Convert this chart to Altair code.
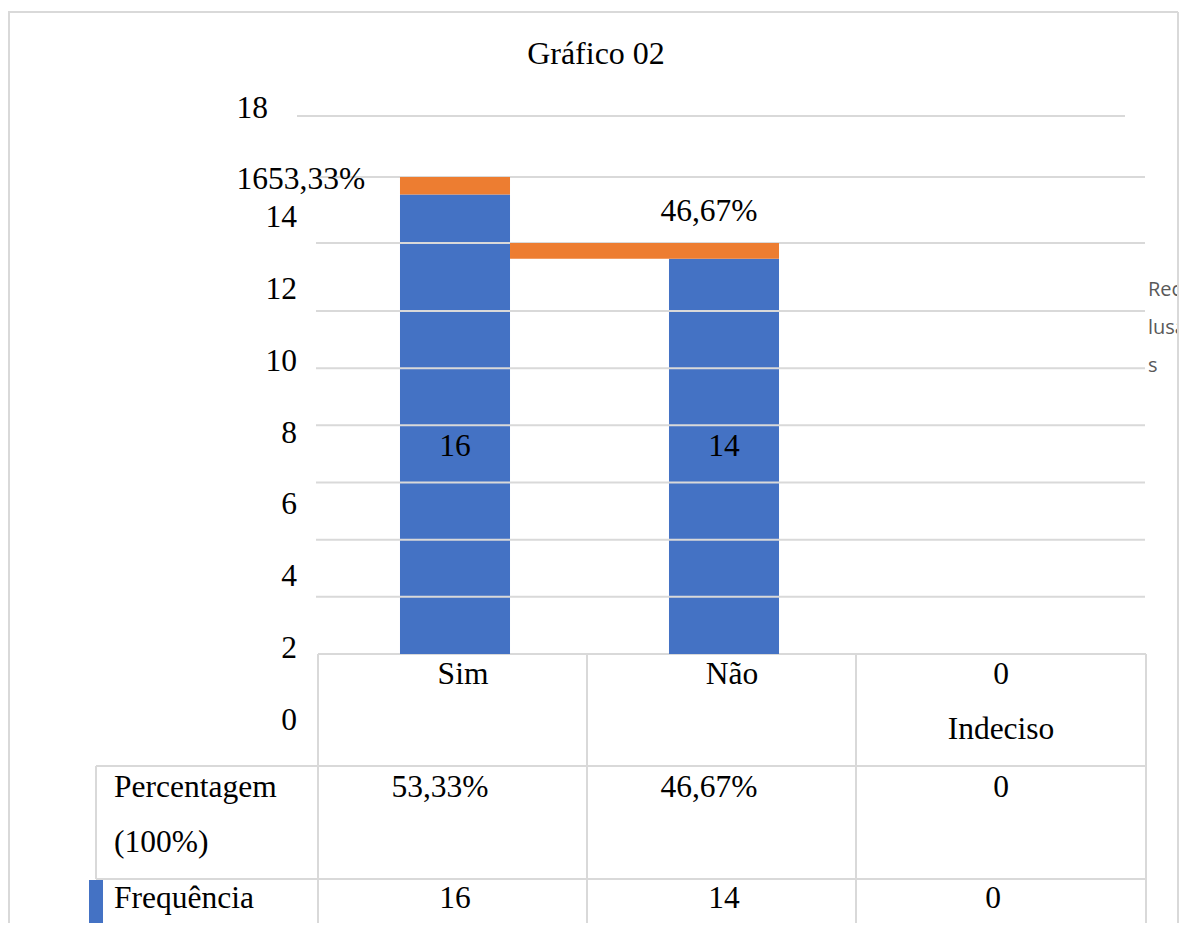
import altair as alt
import pandas as pd

# ---------------- data ----------------
categories = ["Sim", "Não", "Indeciso"]
frequencia = [16, 14, 0]
percentagem = [53.33, 46.67, 0]
percent_text = ["53,33%", "46,67%", "0"]
row_labels = ["Percentagem", "(100%)", "Frequência"]
tick_values = [0, 2, 4, 6, 8, 10, 12, 14, 16, 18]
grid_values = [2, 4, 6, 8, 10, 12, 14, 16]
top_grid = [18]
legend_lines = ["Rec", "lusa", "s"]
title_text = "Gráfico 02"

df = pd.DataFrame({"cat": categories, "freq": frequencia,
                   "pct": percentagem, "pct_text": percent_text})
df["freq_text"] = df["freq"].astype(str)

BLUE = "#4472C4"
ORANGE = "#ED7D31"
LINE = "#D9D9D9"
SERIF = "Liberation Serif"
FS = 31.5
W, H = 1171, 915

xs = alt.Scale(domain=categories, range=[312.5, 1119.5],
               paddingInner=0.591, paddingOuter=0.2955)
ys = alt.Scale(domain=[0, 12, 14, 16, 18], range=[646, 303, 235, 169, 108],
               zero=False, nice=False)
ylab = alt.Scale(domain=[0, 14, 16, 18], range=[722, 219, 181, 110],
                 zero=False, nice=False)

base = alt.Chart(df)
lagged = base.transform_window(
    window=[alt.WindowFieldDef(op="lag", field="cat", **{"as": "prev"})])
one = alt.Data(values=[{}])


def seg(x1, y1, x2, y2, color=LINE, w=2):
    return alt.Chart(one).mark_rule(color=color, strokeWidth=w).encode(
        x=alt.value(x1), x2=alt.value(x2), y=alt.value(y1), y2=alt.value(y2))


def label(text, x, y, align="left", font=SERIF, size=FS, color="black"):
    return alt.Chart(one).mark_text(text=text, font=font, fontSize=size, color=color,
                                    align=align, baseline="alphabetic").encode(
        x=alt.value(x), y=alt.value(y))


layers = []
# table lines
layers += [seg(310, 646, 1138, 646), seg(88, 758, 1138, 758), seg(88, 871, 1138, 871),
           seg(310, 646, 310, H), seg(579, 646, 579, H), seg(848, 646, 848, H),
           seg(1138, 646, 1138, H), seg(88, 758, 88, 871)]

# blue bars
blue = base.transform_filter("datum.freq > 0").transform_calculate(
    top="datum.freq - datum.pct/100", bottom="0").mark_bar(color=BLUE).encode(
    x=alt.X("cat:N", scale=xs, axis=None),
    y=alt.Y("top:Q", scale=ys, axis=None),
    y2="bottom:Q")
layers.append(blue)

# gridlines
grid = alt.Chart(pd.DataFrame({"g": grid_values})).mark_rule(color=LINE, strokeWidth=2).encode(
    y=alt.Y("g:Q", scale=ys, axis=None), x=alt.value(308), x2=alt.value(1137))
grid_top = alt.Chart(pd.DataFrame({"g": top_grid})).mark_rule(color=LINE, strokeWidth=2).encode(
    y=alt.Y("g:Q", scale=ys, axis=None), x=alt.value(289), x2=alt.value(1117))
layers += [grid, grid_top]

# orange segments
orange_first = lagged.transform_filter("datum.pct > 0 && !isValid(datum.prev)").transform_calculate(
    top="datum.freq - datum.pct/100").mark_bar(color=ORANGE).encode(
    x=alt.X("cat:N", scale=xs, axis=None),
    y=alt.Y("freq:Q", scale=ys, axis=None),
    y2="top:Q")
orange_rest = lagged.transform_filter("datum.pct > 0 && isValid(datum.prev)").transform_calculate(
    top="datum.freq - datum.pct/100").mark_rect(color=ORANGE).encode(
    x=alt.X("prev:N", scale=xs, axis=None, bandPosition=1),
    x2=alt.X2("cat:N", bandPosition=1),
    y=alt.Y("freq:Q", scale=ys, axis=None),
    y2="top:Q")
layers += [orange_first, orange_rest]

# y tick labels (misplaced axis of the original)
ticks_df = pd.DataFrame({"v": tick_values})
ticks_low = alt.Chart(ticks_df).transform_filter("datum.v <= 14").mark_text(
    font=SERIF, fontSize=FS, align="right", baseline="alphabetic").encode(
    y=alt.Y("v:Q", scale=ylab, axis=None), x=alt.value(289), text="v:Q")
ticks_high = alt.Chart(ticks_df).transform_filter("datum.v > 14").mark_text(
    font=SERIF, fontSize=FS, align="right", baseline="alphabetic").encode(
    y=alt.Y("v:Q", scale=ylab, axis=None), x=alt.value(260), text="v:Q")
layers += [ticks_low, ticks_high]

# percentage data labels
pct_first = lagged.transform_filter("datum.pct > 0 && !isValid(datum.prev)").mark_text(
    font=SERIF, fontSize=FS, align="left", baseline="alphabetic", dy=12).encode(
    x=alt.value(260), y=alt.Y("freq:Q", scale=ys, axis=None), text="pct_text:N")
pct_rest = lagged.transform_filter("datum.pct > 0 && isValid(datum.prev)").mark_text(
    font=SERIF, fontSize=FS, align="center", baseline="alphabetic", dy=-22, dx=-15).encode(
    x=alt.X("cat:N", scale=xs, axis=None), y=alt.Y("freq:Q", scale=ys, axis=None),
    text="pct_text:N")
layers += [pct_first, pct_rest]

# frequency data labels
freq_in = base.transform_filter("datum.freq > 0").mark_text(
    font=SERIF, fontSize=FS, align="center", baseline="alphabetic").encode(
    x=alt.X("cat:N", scale=xs, axis=None), y=alt.value(448), text="freq_text:N")
freq_zero = base.transform_filter("datum.freq == 0").mark_text(
    font=SERIF, fontSize=FS, align="center", baseline="alphabetic", dx=8).encode(
    x=alt.X("cat:N", scale=xs, axis=None), y=alt.value(676), text="freq_text:N")
layers += [freq_in, freq_zero]

# category labels (table header)
cat_a = base.transform_filter("datum.freq > 0").mark_text(
    font=SERIF, fontSize=FS, align="center", baseline="alphabetic", dx=8).encode(
    x=alt.X("cat:N", scale=xs, axis=None), y=alt.value(676), text="cat:N")
cat_b = base.transform_filter("datum.freq == 0").mark_text(
    font=SERIF, fontSize=FS, align="center", baseline="alphabetic", dx=8).encode(
    x=alt.X("cat:N", scale=xs, axis=None), y=alt.value(731), text="cat:N")
layers += [cat_a, cat_b]

# table rows
row_pct = base.transform_filter("datum.pct > 0").mark_text(
    font=SERIF, fontSize=FS, align="center", baseline="alphabetic", dx=-15).encode(
    x=alt.X("cat:N", scale=xs, axis=None), y=alt.value(789), text="pct_text:N")
row_pct0 = base.transform_filter("datum.pct == 0").mark_text(
    font=SERIF, fontSize=FS, align="center", baseline="alphabetic", dx=8).encode(
    x=alt.X("cat:N", scale=xs, axis=None), y=alt.value(789), text="pct_text:N")
row_freq = base.mark_text(
    font=SERIF, fontSize=FS, align="center", baseline="alphabetic").encode(
    x=alt.X("cat:N", scale=xs, axis=None), y=alt.value(900), text="freq_text:N")
layers += [row_pct, row_pct0, row_freq]

layers += [label(row_labels[0], 106, 789), label(row_labels[1], 106, 844),
           label(row_labels[2], 106, 900)]

# title
layers.append(label(title_text, 588, 56, align="center", size=32))

# legend remnants
for i, t in enumerate(legend_lines):
    layers.append(label(t, 1140, 288 + 38 * i, font="Open Sans", size=20, color="#595959"))

# legend swatch
layers.append(alt.Chart(one).mark_rect(color=BLUE).encode(
    x=alt.value(81), x2=alt.value(95), y=alt.value(872), y2=alt.value(H)))

# frame
layers += [seg(1, 4, 1, H), seg(0, 4, W - 1, 4), seg(W - 1, 4, W - 1, H)]

chart = alt.layer(*layers).resolve_scale(y="independent").properties(
    width=W, height=H, padding=0,
    autosize=alt.AutoSizeParams(type="none")).configure_view(stroke=None)

chart.save("out.html", embed_options={"renderer": "svg", "actions": False})
